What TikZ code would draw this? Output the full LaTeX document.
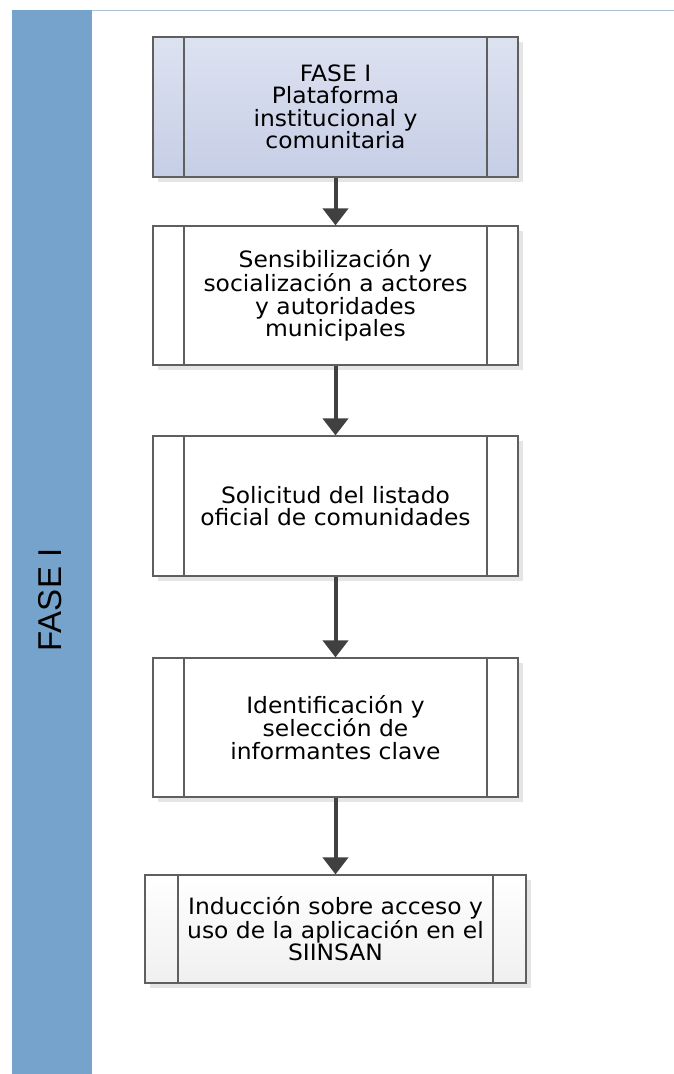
\documentclass[tikz,border=0pt]{standalone}
\usepackage{fontspec}
\usepackage{tikz}
\usetikzlibrary{arrows.meta,shadows}
\newfontfamily\boxfont[FakeStretch=1.04]{DejaVu Sans}
\newfontfamily\lanefont{Liberation Sans}
\definecolor{laneblue}{HTML}{75A3CB}
\definecolor{laneline}{HTML}{A9BFD3}
\definecolor{boxline}{HTML}{5F5F5F}
\definecolor{flowgray}{HTML}{404040}
\definecolor{fasetop}{HTML}{DDE2F1}
\definecolor{fasebot}{HTML}{C6CEE6}

\tikzset{
  proc/.style={rectangle,draw=boxline,line width=1.2pt,fill=white,
    minimum width=365pt,minimum height=139pt,inner sep=0pt,align=center,
    font=\boxfont\fontsize{22.5}{22.5}\selectfont,
    drop shadow={shadow xshift=5pt,shadow yshift=-5pt,fill=black!10,opacity=1},
    path picture={
      \draw[boxline,line width=1.2pt]
        ([xshift=31pt]path picture bounding box.north west) --
        ([xshift=31pt]path picture bounding box.south west)
        ([xshift=-31pt]path picture bounding box.north east) --
        ([xshift=-31pt]path picture bounding box.south east);}},
  flow/.style={->,draw=flowgray,line width=4pt}
}

\begin{document}
\begin{tikzpicture}[x=1pt,y=-1pt,>={Triangle[width=25pt,length=17pt]}]
\useasboundingbox (0,0) rectangle (674,1074);

% lane
\fill[laneblue] (12,10) rectangle (92,1074);
\draw[laneline,line width=1.5pt] (92,10.5) -- (674,10.5);
\node[rotate=90,font=\lanefont\fontsize{33}{36}\selectfont](lane) at (50,600) {FASE I};

% steps
\node[proc,top color=fasetop,bottom color=fasebot,minimum height=140pt](s1) at (335.5,107)
  {FASE I\\Plataforma\\institucional y\\comunitaria};
\node[proc](s2) at (335.5,295.5)
  {Sensibilización y\\socialización a actores\\y autoridades\\municipales};
\node[proc,minimum height=140pt](s3) at (335.5,506)
  {Solicitud del listado\\oficial de comunidades};
\node[proc](s4) at (335.5,727.5)
  {Identificación y\\selección de\\informantes clave};
\node[proc,top color=white,bottom color=black!6,minimum width=381pt,minimum height=108pt,
  path picture={
    \draw[boxline,line width=1.2pt]
      ([xshift=33pt]path picture bounding box.north west) --
      ([xshift=33pt]path picture bounding box.south west)
      ([xshift=-33pt]path picture bounding box.north east) --
      ([xshift=-33pt]path picture bounding box.south east);}](s5) at (335.5,929)
  {Inducción sobre acceso y\\uso de la aplicación en el\\SIINSAN};

% flow
\draw[flow] (s1) -- (s2);
\draw[flow] (s2) -- (s3);
\draw[flow] (s3) -- (s4);
\draw[flow] (s4) -- (s5);

\end{tikzpicture}
\end{document}
